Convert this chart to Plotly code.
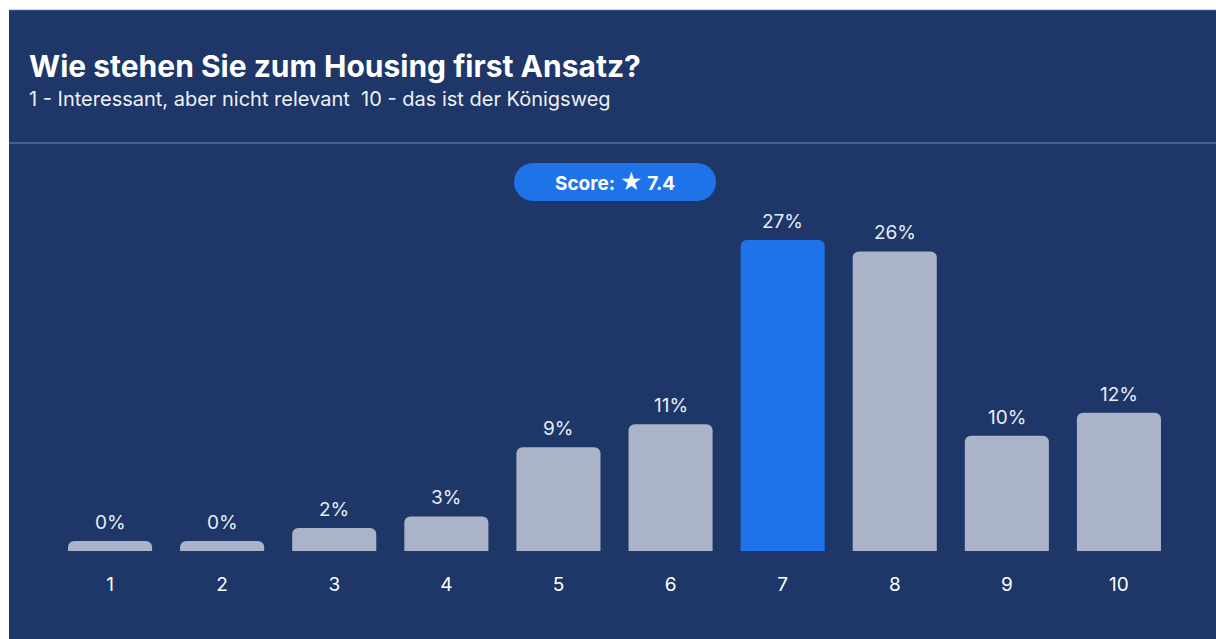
import plotly.graph_objects as go

# ---- data ----
categories = ["1", "2", "3", "4", "5", "6", "7", "8", "9", "10"]
percent = [0, 0, 2, 3, 9, 11, 27, 26, 10, 12]
title_text = "Wie stehen Sie zum Housing first Ansatz?"
subtitle_text = "1 - Interessant, aber nicht relevant  10 - das ist der Königsweg"
score = 7.4

# ---- style (pixel values are screen positions) ----
FIG_W, FIG_H = 1216, 639
L, R, T, B = 54, 1175, 150, 551          # plot area in screen pixels
PW, PH = R - L, B - T
YMAX = 34.8
MIN_VISIBLE = 0.87
NAVY = "#1e3668"
GRAY = "#aab3c7"
BLUE = "#1e73e8"
FONT = "Inter"


def px(x):
    return (x - L) / PW


def py(y):
    return (B - y) / PH


display = [max(v, MIN_VISIBLE) for v in percent]
top_i = percent.index(max(percent))
colors = [BLUE if i == top_i else GRAY for i in range(len(percent))]

fig = go.Figure()
fig.add_trace(go.Bar(
    x=categories, y=display,
    marker=dict(color=colors, cornerradius=6, line=dict(width=0)),
    hoverinfo="skip",
))

annotations = []
for i, (v, d) in enumerate(zip(percent, display)):
    annotations.append(dict(
        x=i, y=d, xref="x", yref="y", text=f"{v}%", showarrow=False,
        yanchor="bottom", yshift=5,
        font=dict(family=FONT, size=19, color="#e9edf5"),
    ))

annotations.append(dict(
    x=px(27), y=py(66), xref="paper", yref="paper", xanchor="left", yanchor="middle",
    text=f"<b>{title_text}</b>", showarrow=False,
    font=dict(family=FONT, size=30, color="#ffffff"),
))
annotations.append(dict(
    x=px(27), y=py(99), xref="paper", yref="paper", xanchor="left", yanchor="middle",
    text=subtitle_text, showarrow=False,
    font=dict(family=FONT, size=20, color="#eef1f7"),
))
annotations.append(dict(
    x=px(615), y=py(182), xref="paper", yref="paper", xanchor="center", yanchor="middle",
    text=f"<b>Score: <span style='font-size:22px'>★</span> {score}</b>", showarrow=False,
    font=dict(family=FONT, size=19, color="#ffffff"),
))


def pill(x0, x1, y0, y1):
    r = (y1 - y0) / 2
    k = 0.5523 * r
    return (
        f"M {px(x0 + r)} {py(y0)} L {px(x1 - r)} {py(y0)} "
        f"C {px(x1 - r + k)} {py(y0)} {px(x1)} {py(y0 + r - k)} {px(x1)} {py(y0 + r)} "
        f"C {px(x1)} {py(y0 + r + k)} {px(x1 - r + k)} {py(y1)} {px(x1 - r)} {py(y1)} "
        f"L {px(x0 + r)} {py(y1)} "
        f"C {px(x0 + r - k)} {py(y1)} {px(x0)} {py(y0 + r + k)} {px(x0)} {py(y0 + r)} "
        f"C {px(x0)} {py(y0 + r - k)} {px(x0 + r - k)} {py(y0)} {px(x0 + r)} {py(y0)} Z"
    )


shapes = [
    # white frame strips (top and left)
    dict(type="rect", xref="paper", yref="paper", x0=px(-5), x1=px(1230), y0=py(10), y1=py(-5),
         fillcolor="#ffffff", line=dict(width=0), layer="below"),
    dict(type="rect", xref="paper", yref="paper", x0=px(-5), x1=px(9), y0=py(650), y1=py(-5),
         fillcolor="#ffffff", line=dict(width=0), layer="below"),
    dict(type="line", xref="paper", yref="paper", x0=px(9), x1=px(1230), y0=py(10.5), y1=py(10.5),
         line=dict(color="#2c4f98", width=1.5), layer="below"),
    dict(type="line", xref="paper", yref="paper", x0=px(9), x1=px(1230), y0=py(143), y1=py(143),
         line=dict(color="#6d86b5", width=1), layer="below"),
    dict(type="path", xref="paper", yref="paper", path=pill(514, 716, 163, 201),
         fillcolor=BLUE, line=dict(width=0), layer="below"),
]

fig.update_layout(
    width=FIG_W, height=FIG_H,
    margin=dict(l=L, r=FIG_W - R, t=T, b=FIG_H - B, pad=0),
    paper_bgcolor=NAVY, plot_bgcolor="rgba(0,0,0,0)",
    bargap=0.25, showlegend=False,
    annotations=annotations, shapes=shapes,
    xaxis=dict(type="category", range=[-0.5, 9.5], showgrid=False, zeroline=False, showline=False,
               ticks="outside", ticklen=16, tickcolor="rgba(0,0,0,0)",
               tickfont=dict(family=FONT, size=19, color="#ffffff"), fixedrange=True),
    yaxis=dict(range=[0, YMAX], visible=False, fixedrange=True),
    font=dict(family=FONT),
)

fig.write_html(
    "out.html",
    config={"displayModeBar": False},
    post_script="document.body.style.margin='0';document.body.style.overflow='hidden';"
                f"document.body.style.background='{NAVY}';",
)
